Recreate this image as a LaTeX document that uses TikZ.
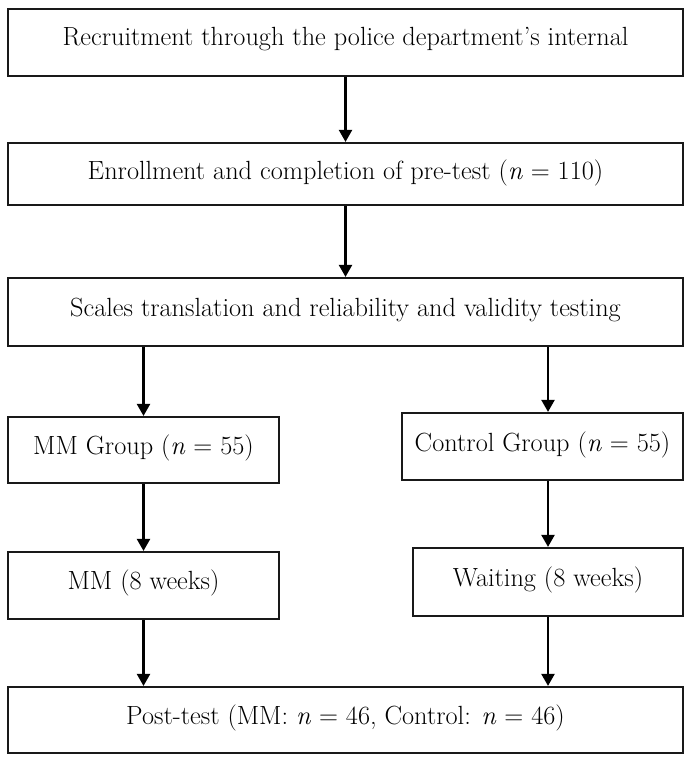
\documentclass[tikz,border=0pt]{standalone}
\usepackage{fontspec}
\usetikzlibrary{arrows.meta}
\begin{document}
\begin{tikzpicture}[x=1pt,y=-1pt,
  box/.style={draw=black!90,line width=2.2pt,rectangle,inner sep=0pt,fill=white},
  lbl/.style={font=\fontsize{26.3}{31}\selectfont,inner sep=0pt},
  arr/.style={line width=2.2pt,-{Triangle[width=13pt,length=12pt]}}]
\useasboundingbox (0,0) rectangle (693,766);
\node[box,minimum width=675pt,minimum height=67pt] (b1) at (345.5,42.5) {};
\node[lbl] (t1) at (345.5,39) {Recruitment through the police department’s internal};
\node[box,minimum width=675pt,minimum height=62pt] (b2) at (345.5,174) {};
\node[lbl] (t2) at (345.5,173) {Enrollment and completion of pre-test (\textit{n} = 110)};
\node[box,minimum width=675pt,minimum height=68pt] (b3) at (345.5,312) {};
\node[lbl] (t3) at (345.5,310) {Scales translation and reliability and validity testing};
\node[box,minimum width=271pt,minimum height=66pt] (mmg) at (143.5,450) {};
\node[lbl] (t4) at (143.5,448) {MM Group (\textit{n} = 55)};
\node[box,minimum width=281pt,minimum height=67pt] (cg) at (542.5,446.5) {};
\node[lbl] (t5) at (542.5,445) {Control Group (\textit{n} = 55)};
\node[box,minimum width=271pt,minimum height=67pt] (mm8) at (143.5,585.5) {};
\node[lbl] (t6) at (143.5,583) {MM (8 weeks)};
\node[box,minimum width=270pt,minimum height=68pt] (w8) at (548,582) {};
\node[lbl] (t7) at (548,580) {Waiting (8 weeks)};
\node[box,minimum width=675pt,minimum height=66pt] (post) at (345.5,720) {};
\node[lbl] (t8) at (345.5,718) {Post-test (MM: \textit{n} = 46, Control: \textit{n} = 46)};
\draw[arr] (b1.south) -- (b2.north);
\draw[arr] (b2.south) -- (b3.north);
\draw[arr] (b3.south -| mmg.north) -- (mmg.north);
\draw[arr] (b3.south -| w8.north) -- (cg.north -| w8.north);
\draw[arr] (mmg.south) -- (mm8.north);
\draw[arr] (cg.south -| w8.north) -- (w8.north);
\draw[arr] (mm8.south) -- (post.north -| mm8.south);
\draw[arr] (w8.south) -- (post.north -| w8.south);
\end{tikzpicture}
\end{document}
